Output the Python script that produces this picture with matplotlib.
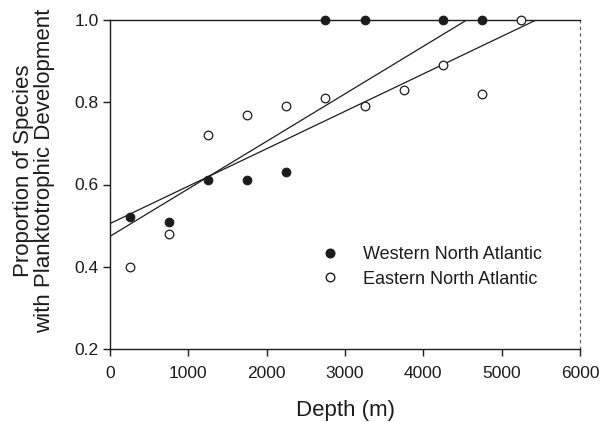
import numpy as np
import matplotlib
matplotlib.use('Agg')
import matplotlib.pyplot as plt
from matplotlib.lines import Line2D

plt.rcParams['font.family'] = ['Liberation Sans', 'DejaVu Sans']

# data
west_depth = [250, 750, 1250, 1750, 2250, 2750, 3250, 4250, 4750]
west_prop = [0.52, 0.51, 0.61, 0.61, 0.63, 1.0, 1.0, 1.0, 1.0]
east_depth = [250, 750, 1250, 1750, 2250, 2750, 3250, 3750, 4250, 4750, 5250]
east_prop = [0.40, 0.48, 0.72, 0.77, 0.79, 0.81, 0.79, 0.83, 0.89, 0.82, 1.0]

# regression lines as drawn in the figure (intercept, slope per m)
west_fit = [0.474, 1.155e-4]
east_fit = [0.505, 9.1e-5]

x_ticks = [0, 1000, 2000, 3000, 4000, 5000, 6000]
y_ticks = [0.2, 0.4, 0.6, 0.8, 1.0]

ink = '#1c1c1c'

fig = plt.figure(figsize=(6.01, 4.22), dpi=100)
ax = fig.add_axes([110 / 601, 1 - 349 / 422, 470 / 601, 329 / 422])

# fitted lines, clipped by the axes at 1.0
xx = np.linspace(0, 6000, 200)
for b, m in [west_fit, east_fit]:
    ax.plot(xx, b + m * xx, color=ink, lw=0.9, zorder=2)

ax.plot(west_depth, west_prop, 'o', ms=6.2, mfc=ink, mec=ink, mew=0.8,
        clip_on=False, zorder=3)
ax.plot(east_depth, east_prop, 'o', ms=6.2, mfc='white', mec=ink, mew=0.9,
        clip_on=False, zorder=3)

ax.set_xlim(0, 6000)
ax.set_ylim(0.2, 1.0)
ax.set_xticks(x_ticks)
ax.set_xticklabels([str(v) for v in x_ticks])
ax.set_yticks(y_ticks)
ax.set_yticklabels(['%.1f' % v for v in y_ticks])
ax.tick_params(direction='out', length=5, width=1, color=ink, labelcolor=ink,
               labelsize=12.5)
ax.tick_params(axis='x', pad=7)
ax.tick_params(axis='y', pad=3)

for side in ['left', 'bottom', 'top']:
    ax.spines[side].set_color(ink)
    ax.spines[side].set_linewidth(1)
# the right frame edge is broken in the scan
ax.spines['right'].set_color('#555555')
ax.spines['right'].set_linewidth(0.8)
ax.spines['right'].set_linestyle((0, (2, 4)))

ax.set_xlabel('Depth (m)', fontsize=16, color=ink, labelpad=14)
fig.text(0.057, 0.595, 'Proportion of Species\nwith Planktotrophic Development',
         rotation=90, ha='center', va='center', fontsize=16, color=ink,
         linespacing=1.0)

handles = [
    Line2D([], [], ls='none', marker='o', ms=6.2, mfc=ink, mec=ink),
    Line2D([], [], ls='none', marker='o', ms=6.2, mfc='white', mec=ink),
]
leg = ax.legend(handles, ['Western North Atlantic', 'Eastern North Atlantic'],
                loc='upper left', bbox_to_anchor=(0.449, 0.312), frameon=False,
                fontsize=13, handlelength=1.0, handletextpad=1.33,
                labelspacing=0.4, borderpad=0, borderaxespad=0, numpoints=1)
for t in leg.get_texts():
    t.set_color(ink)

fig.savefig('out.png', dpi=100)
